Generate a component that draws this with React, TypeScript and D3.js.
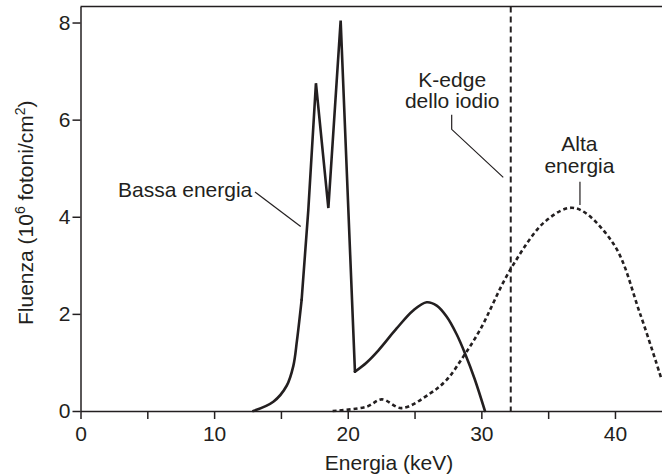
import React, { useEffect, useRef } from "react";
import * as d3 from "d3";

// spectra: [energy keV, fluence 10^6 photons/cm2]
const lowRise: [number, number][] = [
  [12.93, 0], [14.43, 0.19], [15.43, 0.52], [15.93, 0.93], [16.2, 1.45], [16.55, 2.29],
];
const lowPeaks: [number, number][] = [
  [16.55, 2.29], [17.05, 4.14], [17.62, 6.75], [18.55, 4.18], [19.47, 8.04], [20.54, 0.81],
];
const lowHump: [number, number][] = [
  [20.54, 0.81], [21.42, 1.0], [22.3, 1.25], [23.66, 1.7], [24.9, 2.07], [25.91, 2.24],
  [26.66, 2.17], [27.41, 1.94], [28.15, 1.58], [28.8, 1.17], [29.5, 0.66], [30.27, 0],
];
const highSpectrum: [number, number][] = [
  [18.87, 0], [21.42, 0.09], [22.54, 0.24], [24.04, 0.06], [26.16, 0.36], [27.4, 0.64],
  [28.65, 1.12], [29.9, 1.67], [32.25, 2.95], [34.89, 3.93], [36.99, 4.18], [39.87, 3.45],
  [41.87, 2.01], [43.5, 0.64],
];
const kEdge = 32.2;

const xTicks = [0, 5, 10, 15, 20, 25, 30, 35, 40];
const xLabels = [0, 10, 20, 30, 40];
const yTicks = [0, 2, 4, 6, 8];

const ink = "#231f20";
const font = "'Liberation Sans', Arial, Helvetica, sans-serif";

export default function App() {
  const ref = useRef<SVGSVGElement | null>(null);

  useEffect(() => {
    const svg = d3.select(ref.current);
    svg.selectAll("*").remove();

    const x = d3.scaleLinear().domain([0, 43.52]).range([80.5, 662]);
    const y = d3.scaleLinear().domain([0, 8.33]).range([411, 6.5]);

    // frame
    svg.append("line")
      .attr("x1", x(0)).attr("x2", x(43.52))
      .attr("y1", y(8.33)).attr("y2", y(8.33))
      .attr("stroke", ink).attr("stroke-width", 1.5);

    const xAxis = svg.append("g")
      .attr("transform", `translate(0,${y(0)})`)
      .call(
        d3.axisBottom(x)
          .tickValues(xTicks)
          .tickSize(8)
          .tickSizeOuter(0)
          .tickPadding(7)
          .tickFormat((d) => (xLabels.includes(+d) ? String(d) : ""))
      );
    const yAxis = svg.append("g")
      .attr("transform", `translate(${x(0)},0)`)
      .call(d3.axisLeft(y).tickValues(yTicks).tickSize(8).tickSizeOuter(0).tickPadding(2));

    [xAxis, yAxis].forEach((g) => {
      g.selectAll("path, line").attr("stroke", ink).attr("stroke-width", 1.5);
      g.selectAll("text").attr("fill", ink).style("font-size", "21px").style("font-family", font);
    });

    // K-edge line
    svg.append("line")
      .attr("x1", x(kEdge)).attr("x2", x(kEdge))
      .attr("y1", y(8.33)).attr("y2", y(0))
      .attr("stroke", ink).attr("stroke-width", 2)
      .attr("stroke-dasharray", "6,4");

    const smooth = d3.line<[number, number]>()
      .x((d) => x(d[0])).y((d) => y(d[1]))
      .curve(d3.curveCatmullRom.alpha(0.5));
    const straight = d3.line<[number, number]>()
      .x((d) => x(d[0])).y((d) => y(d[1]));

    [smooth(lowRise), straight(lowPeaks), smooth(lowHump)].forEach((dPath) => {
      svg.append("path")
        .attr("d", dPath)
        .attr("fill", "none")
        .attr("stroke", ink)
        .attr("stroke-width", 2.6)
        .attr("stroke-linejoin", "miter")
        .attr("stroke-linecap", "round");
    });

    svg.append("path")
      .attr("d", smooth(highSpectrum))
      .attr("fill", "none")
      .attr("stroke", ink)
      .attr("stroke-width", 2.6)
      .attr("stroke-dasharray", "4,3");

    // annotations
    const label = (txt: string, kx: number, vy: number, anchor: string) =>
      svg.append("text")
        .attr("x", x(kx)).attr("y", y(vy))
        .attr("text-anchor", anchor)
        .attr("fill", ink)
        .style("font-size", "21px")
        .style("font-family", font)
        .text(txt);
    const leader = (pts: [number, number][]) =>
      svg.append("path")
        .attr("d", straight(pts))
        .attr("fill", "none")
        .attr("stroke", ink)
        .attr("stroke-width", 1.2);

    label("Bassa energia", 2.81, 4.41, "start");
    leader([[13.06, 4.51], [16.48, 3.8]]);

    label("K-edge", 27.82, 6.68, "middle");
    label("dello iodio", 27.82, 6.23, "middle");
    leader([[27.78, 6.1], [27.78, 5.8], [31.64, 4.81]]);

    label("Alta", 37.34, 5.36, "middle");
    label("energia", 37.34, 4.9, "middle");
    leader([[37.38, 4.72], [37.38, 4.24]]);

    // axis titles
    svg.append("text")
      .attr("x", 389).attr("y", 470)
      .attr("text-anchor", "middle")
      .attr("fill", ink)
      .style("font-size", "21px")
      .style("font-family", font)
      .text("Energia (keV)");

    const yt = svg.append("text")
      .attr("transform", `translate(33,${(y(0) + y(8.33)) / 2 + 4}) rotate(-90)`)
      .attr("text-anchor", "middle")
      .attr("fill", ink)
      .style("font-size", "21px")
      .style("font-family", font);
    yt.append("tspan").text("Fluenza (10");
    yt.append("tspan").attr("dy", -8).style("font-size", "14px").text("6");
    yt.append("tspan").attr("dy", 8).text(" fotoni/cm");
    yt.append("tspan").attr("dy", -8).style("font-size", "14px").text("2");
    yt.append("tspan").attr("dy", 8).text(")");
  }, []);

  return (
    <svg
      ref={ref}
      width={662}
      height={475}
      style={{ position: "absolute", left: 0, top: 0, background: "#fff" }}
    />
  );
}
